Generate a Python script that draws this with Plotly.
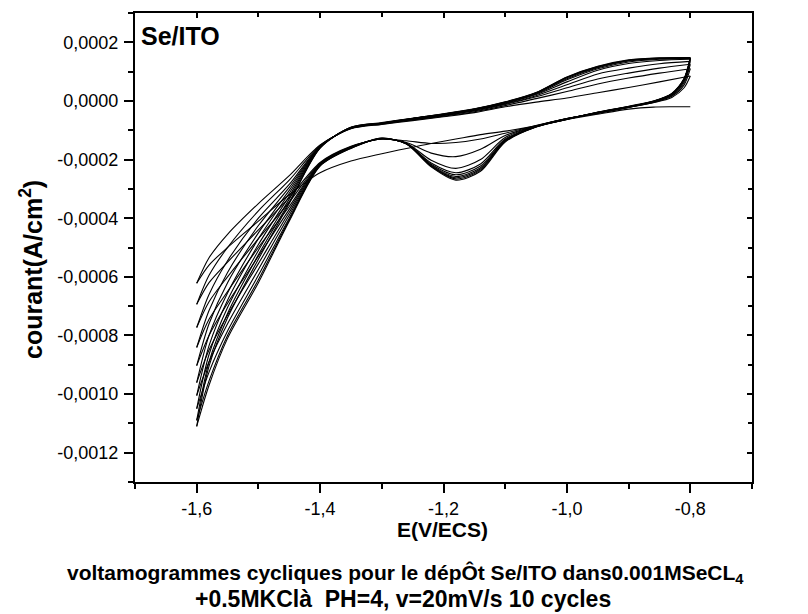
import plotly.graph_objects as go

# ---- data (current in units of 1e-4 A/cm^2) ----
E_cath = [-0.80, -0.81, -0.83, -0.86, -0.90, -0.95, -1.00, -1.05, -1.10, -1.14, -1.18,
          -1.22, -1.26, -1.30, -1.35, -1.40, -1.45, -1.50, -1.55, -1.58, -1.60]
E_anod = [-1.60, -1.58, -1.55, -1.50, -1.45, -1.40, -1.35, -1.30, -1.25, -1.20, -1.15,
          -1.10, -1.05, -1.00, -0.95, -0.90, -0.85, -0.80]

cath_1 = [-0.20, -0.20, -0.20, -0.21, -0.28, -0.45, -0.63, -0.85, -1.03, -1.15, -1.30, -1.45, -1.62, -1.80, -2.05, -2.45, -3.20, -4.10, -5.00, -5.60, -6.22]
cath_2 = [0.85, 0.45, 0.12, -0.06, -0.22, -0.42, -0.60, -0.84, -1.10, -1.30, -1.42, -1.45, -1.36, -1.30, -1.55, -2.10, -3.30, -4.40, -5.50, -6.20, -6.94]
cath_3 = [1.10, 0.55, 0.16, -0.05, -0.22, -0.42, -0.60, -0.85, -1.18, -1.65, -1.90, -1.78, -1.42, -1.30, -1.56, -2.12, -3.45, -4.70, -6.00, -6.85, -7.73]
cath_4 = [1.25, 0.62, 0.18, -0.04, -0.21, -0.41, -0.60, -0.86, -1.25, -2.00, -2.30, -2.02, -1.44, -1.30, -1.57, -2.14, -3.60, -5.00, -6.50, -7.45, -8.41]
cath_5 = [1.35, 0.68, 0.20, -0.03, -0.21, -0.41, -0.61, -0.87, -1.30, -2.15, -2.45, -2.12, -1.45, -1.29, -1.58, -2.16, -3.70, -5.30, -6.90, -8.00, -9.03]
cath_6 = [1.42, 0.72, 0.22, -0.02, -0.20, -0.40, -0.61, -0.87, -1.33, -2.22, -2.52, -2.16, -1.45, -1.29, -1.59, -2.18, -3.80, -5.55, -7.30, -8.50, -9.61]
cath_7 = [1.45, 0.74, 0.23, -0.02, -0.20, -0.40, -0.62, -0.88, -1.35, -2.28, -2.58, -2.19, -1.46, -1.28, -1.60, -2.19, -3.90, -5.75, -7.60, -8.90, -10.05]
cath_8 = [1.46, 0.75, 0.24, -0.01, -0.19, -0.39, -0.62, -0.88, -1.36, -2.32, -2.62, -2.21, -1.46, -1.28, -1.60, -2.20, -4.00, -5.95, -7.85, -9.25, -10.50]
cath_9 = [1.47, 0.76, 0.25, -0.01, -0.19, -0.39, -0.63, -0.89, -1.38, -2.36, -2.66, -2.23, -1.47, -1.27, -1.61, -2.21, -4.05, -6.10, -8.00, -9.55, -10.90]
cath_10 = [1.47, 0.77, 0.26, 0.00, -0.18, -0.38, -0.63, -0.89, -1.40, -2.40, -2.70, -2.25, -1.47, -1.27, -1.62, -2.22, -4.10, -6.20, -8.10, -9.70, -11.10]

anod_1 = [-6.22, -5.35, -4.55, -3.50, -2.55, -1.50, -0.95, -0.80, -0.67, -0.54, -0.40, -0.20, -0.04, 0.10, 0.28, 0.46, 0.65, 0.85]
anod_2 = [-6.94, -5.95, -5.00, -3.75, -2.70, -1.52, -0.94, -0.79, -0.65, -0.52, -0.37, -0.16, 0.08, 0.32, 0.58, 0.78, 0.95, 1.10]
anod_3 = [-7.73, -6.60, -5.45, -4.00, -2.85, -1.54, -0.93, -0.78, -0.64, -0.50, -0.34, -0.12, 0.14, 0.45, 0.75, 0.95, 1.12, 1.25]
anod_4 = [-8.41, -7.15, -5.85, -4.25, -2.95, -1.55, -0.93, -0.77, -0.63, -0.49, -0.32, -0.10, 0.18, 0.55, 0.92, 1.12, 1.27, 1.35]
anod_5 = [-9.03, -7.60, -6.20, -4.50, -3.05, -1.56, -0.92, -0.77, -0.62, -0.48, -0.31, -0.08, 0.22, 0.65, 1.05, 1.28, 1.38, 1.42]
anod_6 = [-9.61, -8.00, -6.55, -4.70, -3.15, -1.57, -0.92, -0.76, -0.61, -0.47, -0.30, -0.07, 0.24, 0.72, 1.10, 1.33, 1.42, 1.45]
anod_7 = [-10.05, -8.35, -6.80, -4.90, -3.25, -1.58, -0.91, -0.76, -0.60, -0.46, -0.29, -0.06, 0.26, 0.76, 1.13, 1.36, 1.44, 1.46]
anod_8 = [-10.50, -8.65, -7.05, -5.10, -3.35, -1.59, -0.91, -0.75, -0.60, -0.45, -0.28, -0.05, 0.27, 0.79, 1.15, 1.38, 1.45, 1.47]
anod_9 = [-10.90, -8.90, -7.25, -5.25, -3.45, -1.60, -0.90, -0.75, -0.59, -0.45, -0.28, -0.04, 0.28, 0.81, 1.17, 1.39, 1.46, 1.47]
anod_10 = [-11.10, -9.05, -7.40, -5.40, -3.50, -1.61, -0.90, -0.74, -0.59, -0.44, -0.27, -0.03, 0.29, 0.82, 1.18, 1.40, 1.47, 1.48]

cathodic = [cath_1, cath_2, cath_3, cath_4, cath_5, cath_6, cath_7, cath_8, cath_9, cath_10]
anodic = [anod_1, anod_2, anod_3, anod_4, anod_5, anod_6, anod_7, anod_8, anod_9, anod_10]
UNIT = 1e-4  # values above are in 1e-4 A/cm^2

x_ticks = [-1.6, -1.4, -1.2, -1.0, -0.8]
x_ticktext = ["-1,6", "-1,4", "-1,2", "-1,0", "-0,8"]
x_minor = [-1.7, -1.5, -1.3, -1.1, -0.9, -0.7]
y_ticks = [0.0002, 0.0, -0.0002, -0.0004, -0.0006, -0.0008, -0.0010, -0.0012]
y_ticktext = ["0,0002", "0,0000", "-0,0002", "-0,0004", "-0,0006", "-0,0008", "-0,0010", "-0,0012"]
y_minor = [0.0003, 0.0001, -0.0001, -0.0003, -0.0005, -0.0007, -0.0009, -0.0011, -0.0013]

FONT = "Liberation Sans, Arial, sans-serif"

fig = go.Figure()
for c, a in zip(cathodic, anodic):
    fig.add_trace(go.Scatter(x=E_cath, y=[v * UNIT for v in c], mode="lines",
                             line=dict(color="black", width=1.1, shape="spline", smoothing=0.8),
                             showlegend=False, hoverinfo="skip"))
    fig.add_trace(go.Scatter(x=E_anod, y=[v * UNIT for v in a], mode="lines",
                             line=dict(color="black", width=1.1, shape="spline", smoothing=0.8),
                             showlegend=False, hoverinfo="skip"))
# dummy trace to activate mirror axes
fig.add_trace(go.Scatter(x=[-1.7], y=[0.0003], xaxis="x2", yaxis="y2", mode="lines",
                         showlegend=False, hoverinfo="skip"))

xr = [-1.7, -0.7]
yr = [-0.0013, 0.0003]
axis_font = dict(family=FONT, size=18, color="black")

fig.update_layout(
    width=808, height=614,
    margin=dict(l=135, r=56, t=13, b=132),
    paper_bgcolor="white", plot_bgcolor="white",
    font=dict(family=FONT, color="black"),
    xaxis=dict(range=xr, showgrid=False, zeroline=False, showline=True, linecolor="black",
               linewidth=2, mirror=True, ticks="outside", ticklen=9, tickwidth=2,
               tickcolor="black", tickmode="array", tickvals=x_ticks, ticktext=x_ticktext,
               tickfont=axis_font,
               minor=dict(tickmode="array", tickvals=x_minor, ticks="outside", ticklen=5,
                          tickwidth=2, tickcolor="black")),
    yaxis=dict(range=yr, showgrid=False, zeroline=False, showline=True, linecolor="black",
               linewidth=2, mirror=True, ticks="outside", ticklen=9, tickwidth=2,
               tickcolor="black", tickmode="array", tickvals=y_ticks, ticktext=y_ticktext,
               tickfont=axis_font, ticklabelstandoff=2,
               minor=dict(tickmode="array", tickvals=y_minor, ticks="outside", ticklen=5,
                          tickwidth=2, tickcolor="black")),
    xaxis2=dict(range=xr, overlaying="x", side="top", showgrid=False, zeroline=False,
                showline=False, ticks="inside", ticklen=5, tickwidth=1.5, tickcolor="black",
                tickmode="array", tickvals=x_ticks, showticklabels=False,
                minor=dict(tickmode="array", tickvals=x_minor, ticks="inside", ticklen=4,
                           tickwidth=1.5, tickcolor="black")),
    yaxis2=dict(range=yr, overlaying="y", side="right", showgrid=False, zeroline=False,
                showline=False, ticks="inside", ticklen=5, tickwidth=1.5, tickcolor="black",
                tickmode="array", tickvals=y_ticks, showticklabels=False,
                minor=dict(tickmode="array", tickvals=y_minor, ticks="inside", ticklen=4,
                           tickwidth=1.5, tickcolor="black")),
)

L, R, T, B = 135, 752, 13, 482
def px(xp):
    return (xp - L) / (R - L)
def py(yp):
    return (B - yp) / (B - T)

annots = [
    dict(text="<b>courant(A/cm<sup>2</sup>)</b>", x=px(31), y=py(270), textangle=-90,
         font=dict(size=25), xanchor="center", yanchor="middle"),
    dict(text="<b>Se/ITO</b>", x=px(139), y=py(36), font=dict(size=25),
         xanchor="left", yanchor="middle"),
    dict(text="<b>E(V/ECS)</b>", x=px(442), y=py(529), font=dict(size=21),
         xanchor="center", yanchor="middle"),
    dict(text="<b>voltamogrammes cycliques pour le dépÔt Se/ITO dans0.001MSeCL<sub>4</sub></b>",
         x=px(405), y=py(574), font=dict(size=21), xanchor="center", yanchor="middle"),
    dict(text="<b>+0.5MKClà  PH=4, v=20mV/s 10 cycles</b>",
         x=px(403), y=py(599), font=dict(size=23), xanchor="center", yanchor="middle"),
]
for a in annots:
    fig.add_annotation(xref="paper", yref="paper", showarrow=False,
                       font_family=FONT, font_color="black", **a)

fig.write_html("out.html")
